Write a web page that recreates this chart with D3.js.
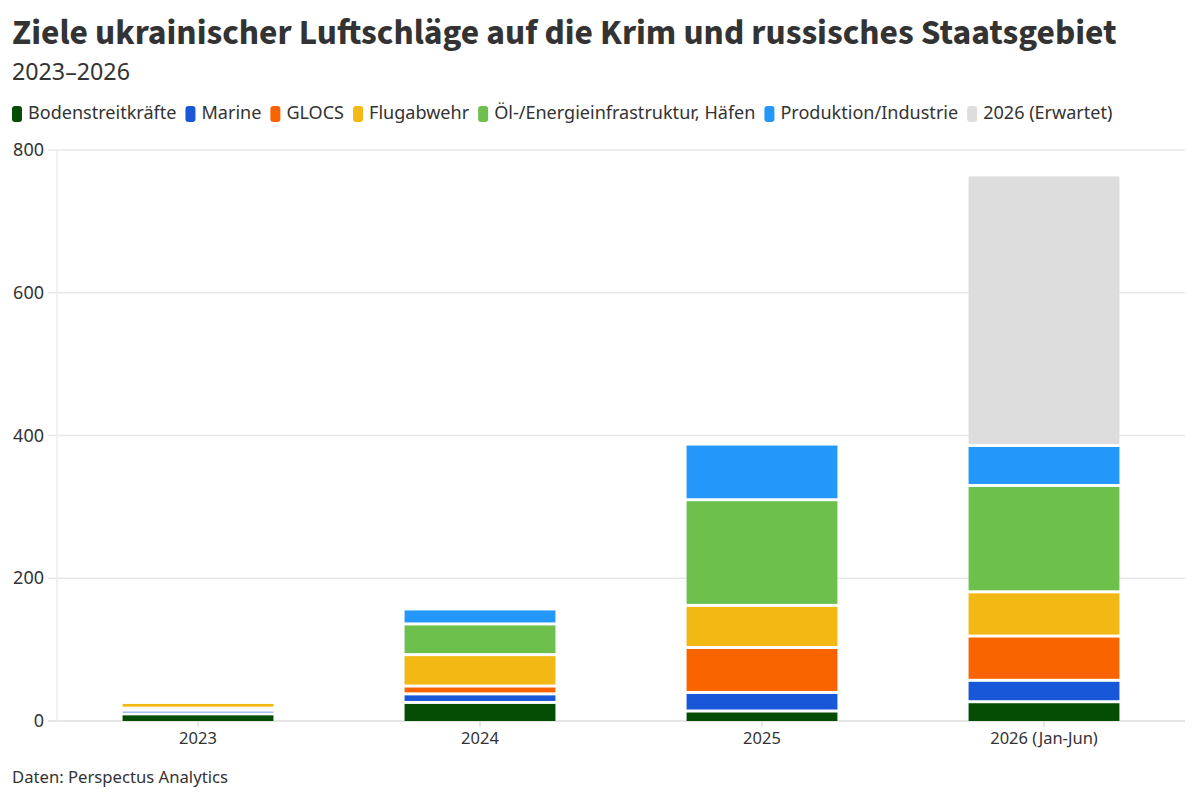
<!DOCTYPE html>
<html><head><meta charset="utf-8">
<script src="https://cdn.jsdelivr.net/npm/d3@7"></script>
<style>
body{margin:0;background:#fff;}
svg{font-family:"Noto Sans",sans-serif;}
</style></head>
<body><svg id="c" width="1200" height="800"></svg>
<script>
const years = ["2023","2024","2025","2026 (Jan-Jun)"];
const seriesNames = ["Bodenstreitkräfte","Marine","GLOCS","Flugabwehr","Öl-/Energieinfrastruktur, Häfen","Produktion/Industrie","2026 (Erwartet)"];
const colors = ["#054d05","#1757d8","#fa6400","#f2b813","#6cc04b","#2397fa","#dddddd"];
const boden      = [10, 26, 14, 27];
const marine     = [5, 12, 26, 30];
const glocs      = [3, 11, 63, 62];
const flugabwehr = [8, 44, 59, 62];
const oel        = [2, 43, 148, 149];
const produktion = [2, 21, 78, 56];
const erwartet   = [0, 0, 0, 379];
const yTicks = [0, 200, 400, 600, 800];

const seriesVals = [boden, marine, glocs, flugabwehr, oel, produktion, erwartet];
const table = years.map((y,i)=>{ const o={year:y}; seriesNames.forEach((s,j)=>o[s]=seriesVals[j][i]); return o; });

const svg = d3.select("#c");
const textCol = "#333333";
function fit(sel, target, base){ const w = sel.node().getComputedTextLength(); sel.attr("font-size", base*target/w); }

// Title
const title = svg.append("text").attr("x",12).attr("y",44).attr("font-weight",700).attr("font-size",32).attr("fill",textCol)
  .style("font-family",'"Source Sans 3","Source Sans Pro",Lato,sans-serif')
  .text("Ziele ukrainischer Luftschläge auf die Krim und russisches Staatsgebiet");
fit(title, 1105, 32);
const sub = svg.append("text").attr("x",12).attr("y",80).attr("font-size",23).attr("fill",textCol).text("2023–2026");
fit(sub, 118, 23);

// Legend
const lg = svg.append("g").attr("transform","translate(12,119)");
function drawLegend(fs){
  lg.selectAll("*").remove();
  let x=0;
  seriesNames.forEach((s,i)=>{
    const g = lg.append("g").attr("transform",`translate(${x},0)`);
    g.append("rect").attr("x",0).attr("y",-13).attr("width",10).attr("height",16).attr("rx",3).attr("fill",colors[i]);
    const t = g.append("text").attr("x",16).attr("y",0).attr("font-size",fs).attr("fill",textCol).text(s);
    x += 16 + t.node().getComputedTextLength() + 9;
  });
  return x - 9;
}
let w = drawLegend(17);
drawLegend(17*(1101-7*25)/(w-7*25));

// Chart
const x = d3.scaleBand().domain(years).range([57,1185]).paddingInner(0.465).paddingOuter(0.2325);
const y = d3.scaleLinear().domain([0,800]).range([721,150]);

const grid = svg.append("g");
grid.selectAll("line").data(yTicks).join("line")
  .attr("x1",48).attr("x2",1185).attr("y1",d=>y(d)).attr("y2",d=>y(d))
  .attr("stroke",d=>d===0?"#dedede":"#e8e8e8").attr("stroke-width",1.5);
svg.append("line").attr("x1",57).attr("x2",57).attr("y1",y(800)).attr("y2",y(0)).attr("stroke","#ececec").attr("stroke-width",1.5);

svg.append("g").selectAll("text").data(yTicks).join("text")
  .attr("x",44).attr("y",d=>y(d)+6).attr("text-anchor","end").attr("font-size",18).attr("fill",textCol).text(d=>d);

const stack = d3.stack().keys(seriesNames)(table);
const gap = 3;
svg.append("g").selectAll("g").data(stack).join("g").attr("fill",(d,i)=>colors[i])
  .selectAll("rect").data(d=>d).join("rect")
  .attr("x",d=>x(d.data.year)).attr("width",x.bandwidth())
  .attr("y",d=>y(d[1])+gap/2)
  .attr("height",d=>{ const h = y(d[0]) - y(d[1]) - (d[0]===0?gap/2:gap); return Math.max(0,h); })
  .filter(d=>d[1]-d[0]<=0).remove();

// x axis ticks/labels
const xa = svg.append("g");
xa.selectAll("line").data(years).join("line")
  .attr("x1",d=>x(d)+x.bandwidth()/2).attr("x2",d=>x(d)+x.bandwidth()/2).attr("y1",721).attr("y2",727)
  .attr("stroke","#dedede").attr("stroke-width",1.5);
xa.selectAll("text").data(years).join("text")
  .attr("x",d=>x(d)+x.bandwidth()/2).attr("y",744).attr("text-anchor","middle").attr("font-size",16.5).attr("fill",textCol).text(d=>d);

const foot = svg.append("text").attr("x",12).attr("y",783).attr("font-size",16).attr("fill",textCol).text("Daten: Perspectus Analytics");
fit(foot, 216, 16);
</script></body></html>
